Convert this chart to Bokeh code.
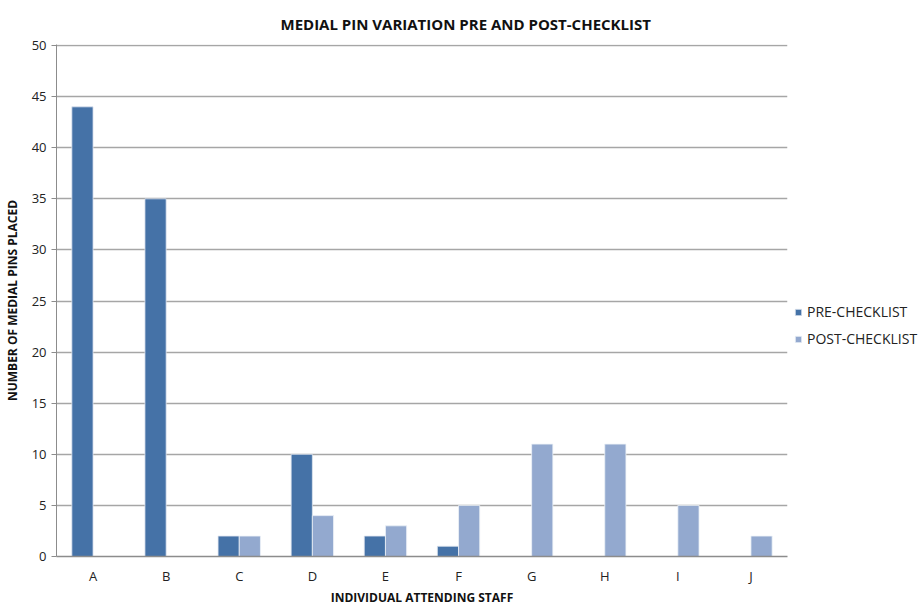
from bokeh.plotting import figure
from bokeh.models import ColumnDataSource, FactorRange, Range1d, Legend, LegendItem, Title
from bokeh.transform import dodge
from bokeh.embed import file_html
from bokeh.resources import INLINE

staff = ["A", "B", "C", "D", "E", "F", "G", "H", "I", "J"]
pre_checklist = [44, 35, 2, 10, 2, 1, 0, 0, 0, 0]
post_checklist = [0, 0, 2, 4, 3, 5, 11, 11, 5, 2]
y_ticks = [0, 5, 10, 15, 20, 25, 30, 35, 40, 45, 50]

FONT = "Open Sans"
PRE_COLOR = "#4572A7"
POST_COLOR = "#93A9CF"

src = ColumnDataSource(dict(staff=staff, pre=pre_checklist, post=post_checklist))

p = figure(x_range=FactorRange(*staff), y_range=Range1d(0, 50.1),
           frame_width=731, frame_height=512,
           output_backend="svg", toolbar_location=None,
           min_border_left=47, min_border_right=130, min_border_top=37, min_border_bottom=36)
p.outline_line_color = None
p.background_fill_color = "white"

bw = 0.29
r_pre = p.vbar(x=dodge("staff", -bw / 2, range=p.x_range), top="pre", width=bw, source=src,
               fill_color=PRE_COLOR, line_color="#dfe6f0", line_width=0.8)
r_post = p.vbar(x=dodge("staff", bw / 2, range=p.x_range), top="post", width=bw, source=src,
                fill_color=POST_COLOR, line_color="#eef2f8", line_width=0.8)

p.title = Title(text="MEDIAL PIN VARIATION PRE AND POST-CHECKLIST", align="left",
                text_font=FONT, text_font_size="15px", text_font_style="bold", text_color="#111111")
p.title.offset = 224
p.title.standoff = 22

p.yaxis.ticker = y_ticks
p.yaxis.axis_line_color = "#8c8c8c"
p.yaxis.major_tick_line_color = "#8c8c8c"
p.yaxis.major_tick_out = 5
p.yaxis.major_tick_in = 0
p.yaxis.minor_tick_line_color = None
p.yaxis.major_label_text_font = FONT
p.yaxis.major_label_text_font_size = "13px"
p.yaxis.major_label_text_color = "#222222"
p.yaxis.axis_label = "NUMBER OF MEDIAL PINS PLACED"
p.yaxis.axis_label_text_font = FONT
p.yaxis.axis_label_text_font_size = "12px"
p.yaxis.axis_label_text_font_style = "bold"
p.yaxis.axis_label_text_color = "#111111"
p.yaxis.axis_label_standoff = 8

p.xaxis.axis_line_color = "#8c8c8c"
p.xaxis.axis_line_width = 1.5
p.xaxis.major_tick_line_color = None
p.xaxis.major_tick_out = 0
p.xaxis.major_tick_in = 0
p.xaxis.minor_tick_line_color = None
p.xaxis.major_label_standoff = 10
p.xaxis.major_label_text_font = FONT
p.xaxis.major_label_text_font_size = "13px"
p.xaxis.major_label_text_color = "#222222"
p.xaxis.axis_label = "INDIVIDUAL ATTENDING STAFF"
p.xaxis.axis_label_text_font = FONT
p.xaxis.axis_label_text_font_size = "12px"
p.xaxis.axis_label_text_font_style = "bold"
p.xaxis.axis_label_text_color = "#111111"
p.xaxis.axis_label_standoff = 1

p.xgrid.grid_line_color = None
p.ygrid.grid_line_color = "#a6a6a6"
p.ygrid.grid_line_width = 1.5

legend = Legend(items=[LegendItem(label="PRE-CHECKLIST", renderers=[r_pre]),
                       LegendItem(label="POST-CHECKLIST", renderers=[r_post])],
                location=(7, 208), orientation="vertical",
                background_fill_alpha=0, border_line_color=None,
                label_text_font=FONT, label_text_font_size="14px", label_text_color="#222222",
                glyph_width=8, glyph_height=8, spacing=8, padding=0, margin=0,
                label_standoff=5)
p.add_layout(legend, "right")

open("out.html", "w").write(file_html(p, INLINE))
